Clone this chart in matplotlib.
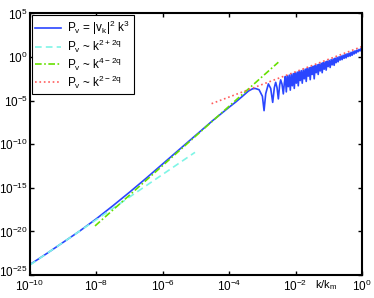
import numpy as np
import matplotlib
matplotlib.use("Agg")
import matplotlib.pyplot as plt
import matplotlib.transforms as mtransforms

plt.rcParams['font.family'] = ['Liberation Sans', 'DejaVu Sans']
plt.rcParams['mathtext.default'] = 'regular'

# spectrum P_v as (log10 k, log10 P)
logk_spec = [-10.0, -9.5, -9.0, -8.5, -8.0, -7.5, -7.0, -6.5, -6.0, -5.5,
             -5.0, -4.5, -4.0, -3.8, -3.6, -3.42, -3.3, -3.22, -3.1, -3.0,
             -2.95, -2.9, -2.82, -2.75, -2.69, -2.64, -2.6, -2.56, -2.52, -2.48,
             -2.45, -2.41, -2.37, -2.34,
             -2.31, -2.28, -2.25, -2.22, -2.19, -2.16, -2.13, -2.10, -2.07, -2.04,
             -2.01, -1.98, -1.95, -1.92, -1.89, -1.86, -1.83, -1.80, -1.77, -1.74,
             -1.71, -1.68, -1.65, -1.62, -1.59, -1.56, -1.53, -1.50, -1.47, -1.44,
             -1.41, -1.38, -1.35, -1.32, -1.29, -1.26, -1.23, -1.20, -1.17, -1.14,
             -1.11, -1.08, -1.05, -1.02, -0.99, -0.96, -0.93, -0.90, -0.87, -0.84,
             -0.81, -0.78, -0.75, -0.72, -0.69, -0.66, -0.63, -0.60, -0.57, -0.54,
             -0.51, -0.48, -0.45, -0.42, -0.39, -0.36, -0.33, -0.30, -0.27, -0.24,
             -0.21, -0.18, -0.15, -0.12, -0.09, -0.06, -0.03, -0.01, 0.0]
logP_spec = [-23.8, -22.55, -21.25, -19.95, -18.55, -17.05, -15.5, -13.9, -12.25, -10.6,
             -8.95, -7.3, -5.75, -5.15, -4.5, -3.9, -3.65, -3.6, -3.75, -4.5,
             -6.15, -4.2, -3.08, -3.6, -5.2, -3.5, -2.9, -3.5, -4.8, -3.2,
             -2.62, -3.1, -4.23, -3.0,
             -2.23, -4.0, -2.15, -3.4, -2.07, -3.8, -1.98, -3.3, -1.90, -3.6,
             -1.81, -3.0, -1.73, -3.3, -1.65, -2.7, -1.56, -3.0, -1.48, -2.5,
             -1.39, -2.8, -1.31, -2.2, -1.23, -2.6, -1.14, -2.0, -1.06, -2.5,
             -0.97, -1.8, -0.89, -2.0, -0.81, -1.6, -0.72, -1.8, -0.64, -1.4,
             -0.55, -1.5, -0.47, -1.1, -0.39, -1.2, -0.30, -0.9, -0.22, -0.95,
             -0.13, -0.65, -0.05, -0.55, 0.03, -0.35, 0.12, -0.3, 0.20, -0.15,
             0.29, -0.1, 0.37, 0.05, 0.45, 0.1, 0.54, 0.2, 0.62, 0.35,
             0.71, 0.45, 0.79, 0.6, 0.87, 0.7, 0.96, 0.85, 1.3]

# power-law guide lines (end points)
logk_low = [-10.0, -5.03]
logP_low = [-23.85, -10.93]
logk_mid = [-8.04, -2.52]
logP_mid = [-19.37, -0.60]
logk_high = [-4.53, 0.0]
logP_high = [-5.35, 1.2]

xticks = [1e-10, 1e-8, 1e-6, 1e-4, 1e-2, 1e0]
yticks = [1e-25, 1e-20, 1e-15, 1e-10, 1e-5, 1e0, 1e5]

fig = plt.figure(figsize=(3.74, 2.98), dpi=100)
ax = fig.add_axes([0.080, 0.077, 0.888, 0.878])

ax.loglog(np.power(10.0, logk_spec), np.power(10.0, logP_spec), '-',
          color='#2a46ff', lw=1.2, label=r'P$_v$ = |v$_k$|$^2$ k$^3$')
ax.loglog(np.power(10.0, logk_low), np.power(10.0, logP_low), '--',
          color='#7ff5e6', lw=1.2, dashes=(4, 2.5), label=r'P$_v$ ~ k$^{2+2q}$')
ax.loglog(np.power(10.0, logk_mid), np.power(10.0, logP_mid), '-.',
          color='#66e000', lw=1.2, dashes=(4, 1.5, 1, 1.5), label=r'P$_v$ ~ k$^{4-2q}$')
ax.loglog(np.power(10.0, logk_high), np.power(10.0, logP_high), ':',
          color='#ff5c5c', lw=1.2, label=r'P$_v$ ~ k$^{2-2q}$')

ax.set_xlim(1e-10, 1e0)
ax.set_ylim(1e-25, 1e5)
ax.set_xticks(xticks)
ax.set_yticks(yticks)
ax.minorticks_off()
ax.tick_params(which='both', direction='in', top=True, right=True,
               length=3, width=1, labelsize=8.5)
ax.tick_params(axis='y', pad=1.5)
ax.tick_params(axis='x', pad=3)
for s in ax.spines.values():
    s.set_linewidth(1.5)

# lift the lowest y label a little so it clears the first x label
lbl = ax.get_yticklabels()[0]
lbl.set_transform(lbl.get_transform() +
                  mtransforms.ScaledTranslation(0, 3 / 72, fig.dpi_scale_trans))

ax.text(0.925, -0.012, r'k/k$_m$', transform=ax.transAxes, ha='right', va='top',
        fontsize=8)

leg = ax.legend(loc='upper left', fontsize=8.5, handlelength=2.2,
                borderaxespad=0.15, labelspacing=0.05, borderpad=0.3,
                handletextpad=0.5, fancybox=False, framealpha=1)
leg.get_frame().set_edgecolor('black')
leg.get_frame().set_linewidth(0.8)

fig.savefig('out.png', dpi=100)
